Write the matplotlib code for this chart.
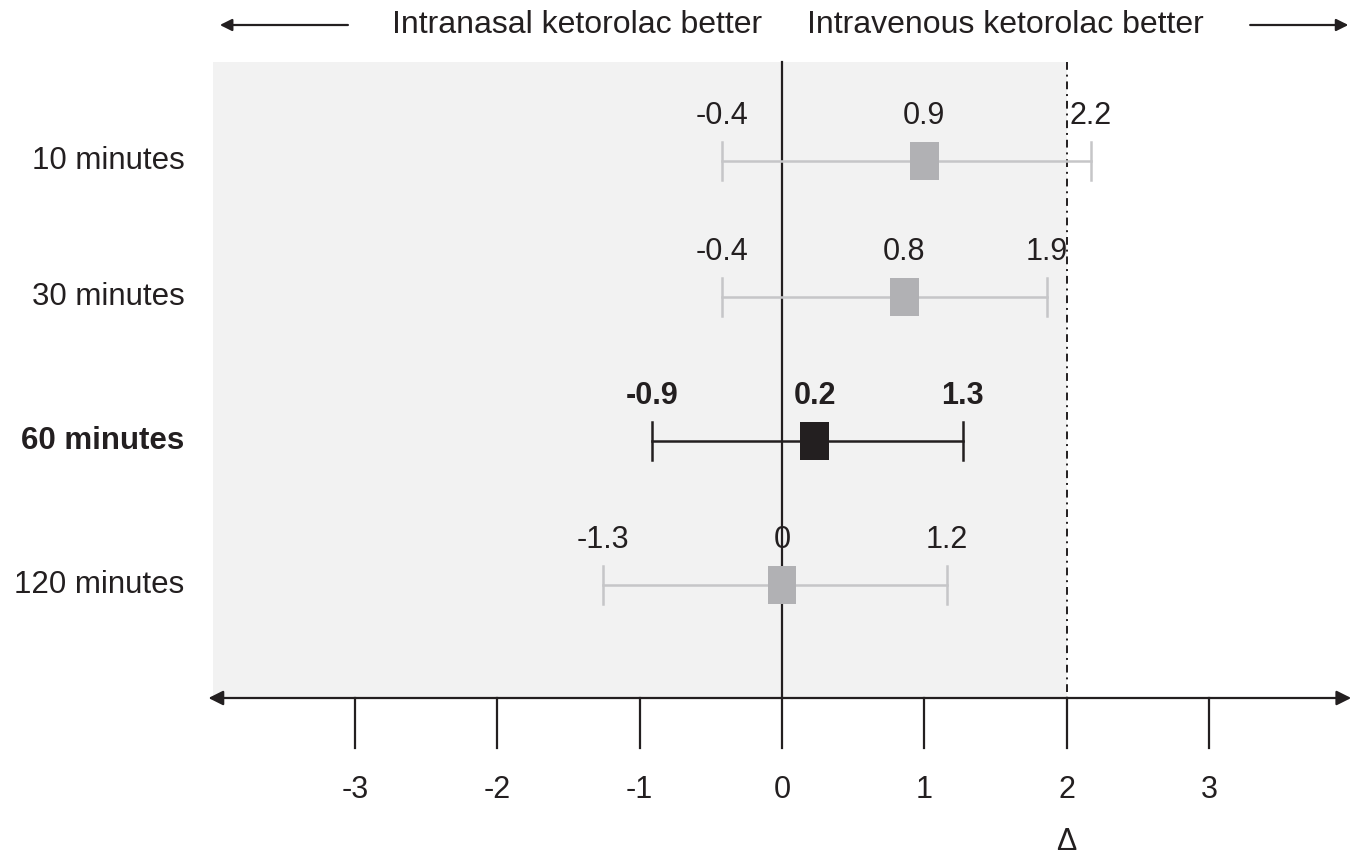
import matplotlib.pyplot as plt
from matplotlib.patches import Rectangle

plt.rcParams['font.family'] = ['Liberation Sans', 'DejaVu Sans']

# data
rows = ["10 minutes", "30 minutes", "60 minutes", "120 minutes"]
est = [1.0, 0.86, 0.23, 0.0]
lo = [-0.42, -0.42, -0.91, -1.26]
hi = [2.17, 1.86, 1.27, 1.16]
est_lbl = ["0.9", "0.8", "0.2", "0"]
lo_lbl = ["-0.4", "-0.4", "-0.9", "-1.3"]
hi_lbl = ["2.2", "1.9", "1.3", "1.2"]
highlight = [False, False, True, False]
ticks = [-3, -2, -1, 0, 1, 2, 3]
delta = 2

# layout (y in pixels from top)
row_y = [161, 297, 441, 585]
top_y = 62
axis_y = 698
gray_line = "#c6c6c8"
gray_box = "#b1b1b4"
black = "#231f20"

fig = plt.figure(figsize=(13.64, 8.56), dpi=100)
ax = fig.add_axes([0, 0, 1, 1])
ax.set_xlim(-5.495, 4.09)
ax.set_ylim(856, 0)
ax.axis("off")

# shaded area and reference lines
ax.add_patch(Rectangle((-4.0, top_y), 4.0 + delta, axis_y - top_y,
                       facecolor="#f2f2f2", edgecolor="none", zorder=0))
ax.plot([0, 0], [top_y, axis_y], color=black, lw=1.6, zorder=2)
ax.plot([delta, delta], [top_y, axis_y], color=black, lw=1.4,
        linestyle=(0, (4, 2.5, 1, 2.5)), zorder=2)

# x axis with arrows
ax.annotate("", xy=(-4.03, axis_y), xytext=(4.0, axis_y),
            arrowprops=dict(arrowstyle="<|-|>", color=black, lw=1.6,
                            mutation_scale=22, shrinkA=0, shrinkB=0))
for t in ticks:
    ax.plot([t, t], [axis_y, 748], color=black, lw=1.6)
    ax.text(t, 790, str(t), ha="center", va="center", fontsize=22, color=black)
ax.text(delta, 842, "Δ", ha="center", va="center", fontsize=22, color=black)

# header arrows and text
ax.annotate("", xy=(-3.95, 25), xytext=(-3.05, 25),
            arrowprops=dict(arrowstyle="-|>", color=black, lw=1.6,
                            mutation_scale=18, shrinkA=0, shrinkB=0))
ax.annotate("", xy=(3.98, 25), xytext=(3.29, 25),
            arrowprops=dict(arrowstyle="-|>", color=black, lw=1.6,
                            mutation_scale=18, shrinkA=0, shrinkB=0))
ax.text(-1.44, 25, "Intranasal ketorolac better", ha="center", va="center",
        fontsize=23, color=black)
ax.text(1.57, 25, "Intravenous ketorolac better", ha="center", va="center",
        fontsize=23, color=black)

# forest rows
for i in range(len(rows)):
    y = row_y[i]
    bold = highlight[i]
    lc = black if bold else gray_line
    bc = black if bold else gray_box
    fw = "bold" if bold else "normal"
    ax.plot([lo[i], hi[i]], [y, y], color=lc, lw=1.8, zorder=3)
    for x in (lo[i], hi[i]):
        ax.plot([x, x], [y - 19, y + 19], color=lc, lw=1.8, zorder=3)
    ax.add_patch(Rectangle((est[i] - 0.1, y - 19), 0.2, 38, facecolor=bc,
                           edgecolor="none", zorder=4))
    for x, s in zip((lo[i], est[i], hi[i]), (lo_lbl[i], est_lbl[i], hi_lbl[i])):
        ax.text(x, y - 45, s, ha="center", va="center", fontsize=22,
                color=black, fontweight=fw)
    ax.text(-4.2, y, rows[i], ha="right", va="center", fontsize=22.5,
            color=black, fontweight=fw)

fig.savefig("out.png", dpi=100)
